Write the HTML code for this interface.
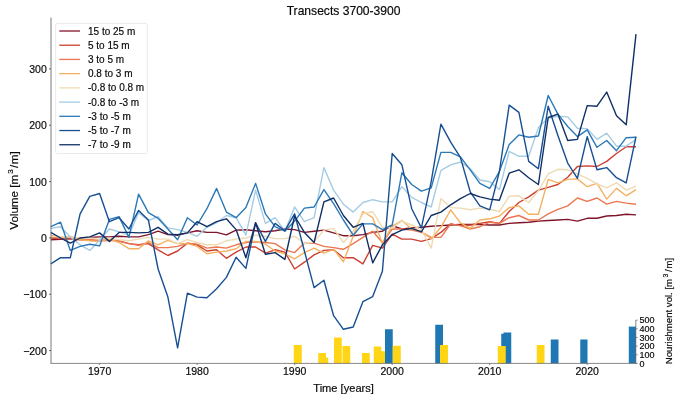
<!DOCTYPE html>
<html><head><meta charset="utf-8"><title>Transects 3700-3900</title>
<style>
html,body{margin:0;padding:0;background:#fff;}
body{width:680px;height:400px;overflow:hidden;}
svg{display:block;}
.t{filter:grayscale(1);}
text{filter:grayscale(1);font-family:"Liberation Sans",sans-serif;fill:#0a0a0a;stroke:#0a0a0a;stroke-width:0.18px;}
</style></head><body>
<svg width="680" height="400" viewBox="0 0 680 400">
<rect width="680" height="400" fill="#ffffff"/>
<g shape-rendering="auto">
<rect x="293.75" y="345.00" width="8.00" height="18.40" fill="#ffd515"/>
<rect x="318.25" y="353.00" width="7.75" height="10.40" fill="#ffd515"/>
<rect x="320.50" y="357.50" width="7.75" height="5.90" fill="#ffd515"/>
<rect x="334.00" y="337.50" width="7.75" height="25.90" fill="#ffd515"/>
<rect x="342.50" y="346.00" width="7.75" height="17.40" fill="#ffd515"/>
<rect x="362.00" y="353.00" width="7.75" height="10.40" fill="#ffd515"/>
<rect x="373.75" y="346.50" width="7.50" height="16.90" fill="#ffd515"/>
<rect x="377.00" y="351.25" width="11.50" height="12.15" fill="#ffd515"/>
<rect x="385.00" y="329.25" width="7.75" height="34.15" fill="#1f77b4"/>
<rect x="392.75" y="345.75" width="8.00" height="17.65" fill="#ffd515"/>
<rect x="435.25" y="324.75" width="7.75" height="38.65" fill="#1f77b4"/>
<rect x="440.00" y="345.00" width="8.00" height="18.40" fill="#ffd515"/>
<rect x="501.25" y="333.75" width="7.50" height="29.65" fill="#1f77b4"/>
<rect x="503.50" y="332.50" width="7.75" height="30.90" fill="#1f77b4"/>
<rect x="497.75" y="346.00" width="8.00" height="17.40" fill="#ffd515"/>
<rect x="536.75" y="345.00" width="7.75" height="18.40" fill="#ffd515"/>
<rect x="550.75" y="339.50" width="7.75" height="23.90" fill="#1f77b4"/>
<rect x="580.25" y="339.50" width="7.25" height="23.90" fill="#1f77b4"/>
<rect x="628.80" y="326.60" width="7.20" height="36.80" fill="#1f77b4"/>
</g>
<g fill="none" stroke-width="1.4" stroke-linejoin="round" stroke-linecap="butt">
<polyline stroke="#80152a" points="50.8,239.7 60.6,239.4 70.3,238.6 80.1,238.0 89.8,237.4 99.6,236.9 109.4,236.9 119.1,236.3 128.9,236.9 138.6,236.9 148.4,234.6 158.1,231.2 167.9,234.6 177.6,235.2 187.4,232.9 197.1,230.7 206.9,232.4 216.6,232.4 226.4,234.9 236.1,230.1 245.9,229.8 255.6,230.7 265.4,231.8 275.1,230.7 284.9,229.0 294.6,229.6 304.4,232.4 314.1,231.2 323.9,230.1 333.6,232.9 343.4,235.7 353.2,235.7 362.9,234.6 372.7,232.4 382.4,231.2 392.2,225.6 401.9,229.0 411.7,227.9 421.4,227.3 431.2,226.2 440.9,225.6 450.7,225.0 460.4,224.5 470.2,224.5 479.9,224.5 489.7,225.0 499.4,225.0 509.2,223.4 518.9,222.8 528.7,222.2 538.4,221.1 548.2,220.5 557.9,220.0 567.7,219.4 577.4,221.1 587.2,218.3 597.0,218.3 606.7,216.0 616.5,215.5 626.2,214.3 636.0,214.9"/>
<polyline stroke="#cd3f30" points="50.8,238.0 60.6,238.6 70.3,239.1 80.1,239.7 89.8,240.3 99.6,240.8 109.4,240.3 119.1,240.8 128.9,243.6 138.6,244.8 148.4,243.6 158.1,249.8 167.9,255.5 177.6,251.0 187.4,243.1 197.1,244.8 206.9,251.0 216.6,249.8 226.4,258.3 236.1,252.1 245.9,247.0 255.6,247.0 265.4,253.2 275.1,249.8 284.9,252.1 294.6,269.0 304.4,262.2 314.1,254.9 323.9,250.4 333.6,249.8 343.4,257.7 353.2,257.7 362.9,263.9 372.7,245.3 382.4,248.1 392.2,234.1 401.9,239.1 411.7,239.1 421.4,241.4 431.2,238.6 440.9,232.4 450.7,223.9 460.4,225.6 470.2,225.0 479.9,223.4 489.7,221.7 499.4,223.4 509.2,211.5 518.9,202.5 528.7,196.9 538.4,190.1 548.2,187.3 557.9,184.5 567.7,177.2 577.4,166.5 587.2,165.9 597.0,166.5 606.7,161.4 616.5,153.5 626.2,146.7 636.0,146.7"/>
<polyline stroke="#ec7650" points="50.8,236.9 60.6,238.0 70.3,237.4 80.1,239.1 89.8,239.7 99.6,240.3 109.4,239.7 119.1,241.4 128.9,243.6 138.6,245.3 148.4,242.5 158.1,247.6 167.9,247.6 177.6,246.4 187.4,243.1 197.1,244.2 206.9,248.1 216.6,247.0 226.4,248.1 236.1,244.8 245.9,242.5 255.6,241.9 265.4,242.5 275.1,243.6 284.9,249.8 294.6,252.6 304.4,243.1 314.1,243.1 323.9,246.4 333.6,247.6 343.4,249.3 353.2,243.6 362.9,237.4 372.7,231.2 382.4,242.5 392.2,229.0 401.9,229.0 411.7,230.1 421.4,232.4 431.2,237.4 440.9,237.4 450.7,223.9 460.4,225.6 470.2,229.0 479.9,226.7 489.7,222.2 499.4,223.4 509.2,217.7 518.9,215.5 528.7,220.0 538.4,220.0 548.2,213.8 557.9,209.3 567.7,205.9 577.4,198.0 587.2,201.4 597.0,198.0 606.7,204.2 616.5,201.4 626.2,203.1 636.0,204.2"/>
<polyline stroke="#f4b161" points="50.8,235.2 60.6,237.4 70.3,236.3 80.1,239.7 89.8,240.8 99.6,241.4 109.4,239.1 119.1,242.5 128.9,248.7 138.6,248.7 148.4,240.8 158.1,244.8 167.9,240.3 177.6,243.6 187.4,243.6 197.1,246.4 206.9,253.8 216.6,252.1 226.4,251.0 236.1,248.7 245.9,241.4 255.6,241.4 265.4,244.2 275.1,251.0 284.9,253.8 294.6,258.8 304.4,252.6 314.1,248.1 323.9,253.2 333.6,249.3 343.4,261.7 353.2,236.3 362.9,211.5 372.7,217.7 382.4,243.6 392.2,226.2 401.9,220.5 411.7,229.0 421.4,231.2 431.2,238.6 440.9,227.3 450.7,209.8 460.4,222.8 470.2,228.4 479.9,220.0 489.7,218.8 499.4,216.0 509.2,207.6 518.9,205.9 528.7,214.3 538.4,214.3 548.2,179.4 557.9,182.8 567.7,179.4 577.4,178.9 587.2,186.7 597.0,183.4 606.7,199.1 616.5,188.4 626.2,195.8 636.0,189.6"/>
<polyline stroke="#eedbb2" points="50.8,236.3 60.6,236.9 70.3,236.9 80.1,238.0 89.8,238.0 99.6,239.1 109.4,238.0 119.1,239.7 128.9,240.8 138.6,239.1 148.4,237.4 158.1,239.1 167.9,239.1 177.6,243.6 187.4,239.7 197.1,242.5 206.9,244.8 216.6,244.8 226.4,240.8 236.1,239.1 245.9,238.0 255.6,235.2 265.4,236.3 275.1,238.6 284.9,238.6 294.6,236.3 304.4,243.6 314.1,241.9 323.9,230.1 333.6,228.4 343.4,242.5 353.2,231.2 362.9,213.8 372.7,211.5 382.4,227.3 392.2,227.9 401.9,221.1 411.7,225.0 421.4,229.6 431.2,248.1 440.9,198.6 450.7,207.6 460.4,208.1 470.2,209.8 479.9,208.1 489.7,209.3 499.4,211.5 509.2,196.3 518.9,195.8 528.7,202.5 538.4,190.7 548.2,173.8 557.9,169.3 567.7,169.8 577.4,173.8 587.2,178.3 597.0,183.9 606.7,187.9 616.5,182.8 626.2,190.1 636.0,186.2"/>
<polyline stroke="#a6cce3" points="50.8,228.4 60.6,226.7 70.3,236.9 80.1,244.8 89.8,250.4 99.6,240.3 109.4,229.0 119.1,231.8 128.9,235.2 138.6,212.7 148.4,220.5 158.1,216.6 167.9,227.9 177.6,229.6 187.4,232.4 197.1,236.3 206.9,227.3 216.6,222.8 226.4,215.5 236.1,217.7 245.9,235.2 255.6,190.1 265.4,223.4 275.1,217.7 284.9,231.2 294.6,207.0 304.4,221.7 314.1,217.7 323.9,167.6 333.6,190.1 343.4,204.2 353.2,212.1 362.9,202.5 372.7,199.7 382.4,201.9 392.2,201.9 401.9,186.7 411.7,197.4 421.4,202.5 431.2,207.0 440.9,170.4 450.7,164.8 460.4,162.0 470.2,168.7 479.9,180.0 489.7,181.7 499.4,189.6 509.2,151.3 518.9,156.3 528.7,156.3 538.4,127.6 548.2,118.0 557.9,116.3 567.7,116.9 577.4,128.2 587.2,128.7 597.0,139.4 606.7,133.2 616.5,146.2 626.2,146.2 636.0,139.4"/>
<polyline stroke="#2b79b7" points="50.8,226.7 60.6,222.2 70.3,250.4 80.1,246.4 89.8,244.2 99.6,245.9 109.4,219.4 119.1,216.6 128.9,237.4 138.6,194.1 148.4,212.7 158.1,218.3 167.9,229.0 177.6,239.7 187.4,217.7 197.1,225.0 206.9,208.7 216.6,188.4 226.4,212.1 236.1,217.7 245.9,207.6 255.6,183.4 265.4,213.8 275.1,226.7 284.9,231.2 294.6,221.1 304.4,208.1 314.1,207.0 323.9,189.6 333.6,203.6 343.4,220.0 353.2,235.2 362.9,223.9 372.7,223.9 382.4,229.6 392.2,225.0 401.9,172.7 411.7,184.5 421.4,191.2 431.2,187.9 440.9,152.4 450.7,152.4 460.4,156.9 470.2,169.8 479.9,183.4 489.7,188.4 499.4,171.5 509.2,144.5 518.9,134.9 528.7,137.2 538.4,136.0 548.2,95.5 557.9,114.1 567.7,126.5 577.4,136.6 587.2,129.8 597.0,147.3 606.7,140.5 616.5,150.7 626.2,137.7 636.0,137.2"/>
<polyline stroke="#174f93" points="50.8,263.9 60.6,257.7 70.3,257.7 80.1,213.8 89.8,196.3 99.6,193.5 109.4,221.7 119.1,217.7 128.9,229.0 138.6,210.4 148.4,220.0 158.1,269.0 167.9,297.1 177.6,347.8 187.4,293.2 197.1,297.1 206.9,297.7 216.6,288.7 226.4,277.4 236.1,257.2 245.9,268.4 255.6,222.8 265.4,241.4 275.1,223.4 284.9,230.7 294.6,213.8 304.4,251.0 314.1,287.6 323.9,280.2 333.6,315.7 343.4,329.3 353.2,327.0 362.9,301.7 372.7,296.6 382.4,271.2 392.2,153.5 401.9,164.8 411.7,208.7 421.4,227.9 431.2,181.7 440.9,124.2 450.7,142.2 460.4,157.4 470.2,191.8 479.9,205.9 489.7,209.8 499.4,171.5 509.2,105.1 518.9,112.4 528.7,161.4 538.4,168.7 548.2,106.2 557.9,135.5 567.7,163.1 577.4,178.3 587.2,136.6 597.0,169.8 606.7,167.6 616.5,177.7 626.2,182.8 636.0,136.6"/>
<polyline stroke="#0f2f66" points="50.8,232.4 60.6,238.0 70.3,243.1 80.1,238.0 89.8,236.9 99.6,232.9 109.4,241.4 119.1,232.4 128.9,232.4 138.6,232.9 148.4,232.4 158.1,227.3 167.9,234.1 177.6,234.6 187.4,232.9 197.1,221.7 206.9,226.7 216.6,221.7 226.4,218.8 236.1,229.6 245.9,257.7 255.6,222.8 265.4,254.3 275.1,252.6 284.9,259.4 294.6,216.0 304.4,232.4 314.1,242.5 323.9,201.9 333.6,198.0 343.4,215.5 353.2,227.3 362.9,223.4 372.7,262.8 382.4,244.8 392.2,234.6 401.9,230.1 411.7,228.4 421.4,231.8 431.2,215.5 440.9,212.1 450.7,204.8 460.4,198.6 470.2,193.5 479.9,196.9 489.7,199.1 499.4,200.3 509.2,173.2 518.9,169.8 528.7,177.7 538.4,184.5 548.2,117.5 557.9,114.1 567.7,140.5 577.4,139.4 587.2,105.6 597.0,106.2 606.7,92.1 616.5,115.8 626.2,124.8 636.0,34.1"/>
</g>
<g stroke="#6a6a6a" stroke-width="0.8" fill="none">
<line x1="51" y1="17.6" x2="51" y2="363.4" stroke-width="0.9"/>
<line x1="50.6" y1="363.4" x2="636.6" y2="363.4"/>
<line x1="635.8" y1="320.1" x2="635.8" y2="363.4"/>
<line stroke="#4a4a4a" x1="49" y1="68.86" x2="51" y2="69.01"/>
<line stroke="#4a4a4a" x1="49" y1="125.19" x2="51" y2="125.34"/>
<line stroke="#4a4a4a" x1="49" y1="181.52" x2="51" y2="181.67"/>
<line stroke="#4a4a4a" x1="49" y1="237.85" x2="51" y2="238.00"/>
<line stroke="#4a4a4a" x1="49" y1="294.18" x2="51" y2="294.33"/>
<line stroke="#4a4a4a" x1="49" y1="350.51" x2="51" y2="350.66"/>
<line x1="99.60" y1="363.4" x2="99.60" y2="365.0"/>
<line x1="197.12" y1="363.4" x2="197.12" y2="365.0"/>
<line x1="294.64" y1="363.4" x2="294.64" y2="365.0"/>
<line x1="392.16" y1="363.4" x2="392.16" y2="365.0"/>
<line x1="489.68" y1="363.4" x2="489.68" y2="365.0"/>
<line x1="587.20" y1="363.4" x2="587.20" y2="365.0"/>
<line x1="635.8" y1="363.40" x2="637.6" y2="363.40"/>
<line x1="635.8" y1="354.75" x2="637.6" y2="354.75"/>
<line x1="635.8" y1="346.10" x2="637.6" y2="346.10"/>
<line x1="635.8" y1="337.45" x2="637.6" y2="337.45"/>
<line x1="635.8" y1="328.80" x2="637.6" y2="328.80"/>
<line x1="635.8" y1="320.15" x2="637.6" y2="320.15"/>
</g>
<g font-size="10.5px">
<text x="46.8" y="72.91" text-anchor="end">300</text>
<text x="46.8" y="129.24" text-anchor="end">200</text>
<text x="46.8" y="185.57" text-anchor="end">100</text>
<text x="46.8" y="241.90" text-anchor="end">0</text>
<text x="46.8" y="298.23" text-anchor="end">−100</text>
<text x="46.8" y="354.56" text-anchor="end">−200</text>
<text x="99.60" y="375.1" text-anchor="middle">1970</text>
<text x="197.12" y="375.1" text-anchor="middle">1980</text>
<text x="294.64" y="375.1" text-anchor="middle">1990</text>
<text x="392.16" y="375.1" text-anchor="middle">2000</text>
<text x="489.68" y="375.1" text-anchor="middle">2010</text>
<text x="587.20" y="375.1" text-anchor="middle">2020</text>
</g>
<g font-size="9px">
<text x="639.5" y="366.70">0</text>
<text x="639.5" y="358.05">100</text>
<text x="639.5" y="349.40">200</text>
<text x="639.5" y="340.75">300</text>
<text x="639.5" y="332.10">400</text>
<text x="639.5" y="323.45">500</text>
</g>
<text x="343.6" y="14.5" font-size="12.1px" text-anchor="middle">Transects 3700-3900</text>
<text x="343.6" y="391.5" font-size="11.1px" text-anchor="middle">Time [years]</text>
<text transform="translate(17.7,190.5) rotate(-90)" font-size="11.6px" text-anchor="middle">Volume [m<tspan font-size="8.1px" dy="-5" dx="1.1">3</tspan><tspan dy="5" dx="1.3">/</tspan><tspan dx="0.6">m]</tspan></text>
<text transform="translate(671.8,364.2) rotate(-90)" font-size="9.6px" text-anchor="start">Nourishment vol. [m<tspan font-size="6.9px" dy="-4.3" dx="1.4">3</tspan><tspan dy="4.3" dx="1.6">/</tspan><tspan dx="0.9">m]</tspan></text>
<rect x="55.6" y="23.3" width="91.8" height="130.2" rx="2" ry="2" fill="#ffffff" fill-opacity="0.8" stroke="#e4e4e4" stroke-width="0.8"/>
<g font-size="10px">
<line x1="59.3" y1="31.00" x2="80" y2="31.00" stroke="#80152a" stroke-width="1.3"/>
<text x="88" y="34.60">15 to 25 m</text>
<line x1="59.3" y1="45.22" x2="80" y2="45.22" stroke="#cd3f30" stroke-width="1.3"/>
<text x="88" y="48.82">5 to 15 m</text>
<line x1="59.3" y1="59.44" x2="80" y2="59.44" stroke="#ec7650" stroke-width="1.3"/>
<text x="88" y="63.04">3 to 5 m</text>
<line x1="59.3" y1="73.66" x2="80" y2="73.66" stroke="#f4b161" stroke-width="1.3"/>
<text x="88" y="77.26">0.8 to 3 m</text>
<line x1="59.3" y1="87.88" x2="80" y2="87.88" stroke="#eedbb2" stroke-width="1.3"/>
<text x="88" y="91.48">-0.8 to 0.8 m</text>
<line x1="59.3" y1="102.10" x2="80" y2="102.10" stroke="#a6cce3" stroke-width="1.3"/>
<text x="88" y="105.70">-0.8 to -3 m</text>
<line x1="59.3" y1="116.32" x2="80" y2="116.32" stroke="#2b79b7" stroke-width="1.3"/>
<text x="88" y="119.92">-3 to -5 m</text>
<line x1="59.3" y1="130.54" x2="80" y2="130.54" stroke="#174f93" stroke-width="1.3"/>
<text x="88" y="134.14">-5 to -7 m</text>
<line x1="59.3" y1="144.76" x2="80" y2="144.76" stroke="#0f2f66" stroke-width="1.3"/>
<text x="88" y="148.36">-7 to -9 m</text>
</g>
</svg>
</body></html>
